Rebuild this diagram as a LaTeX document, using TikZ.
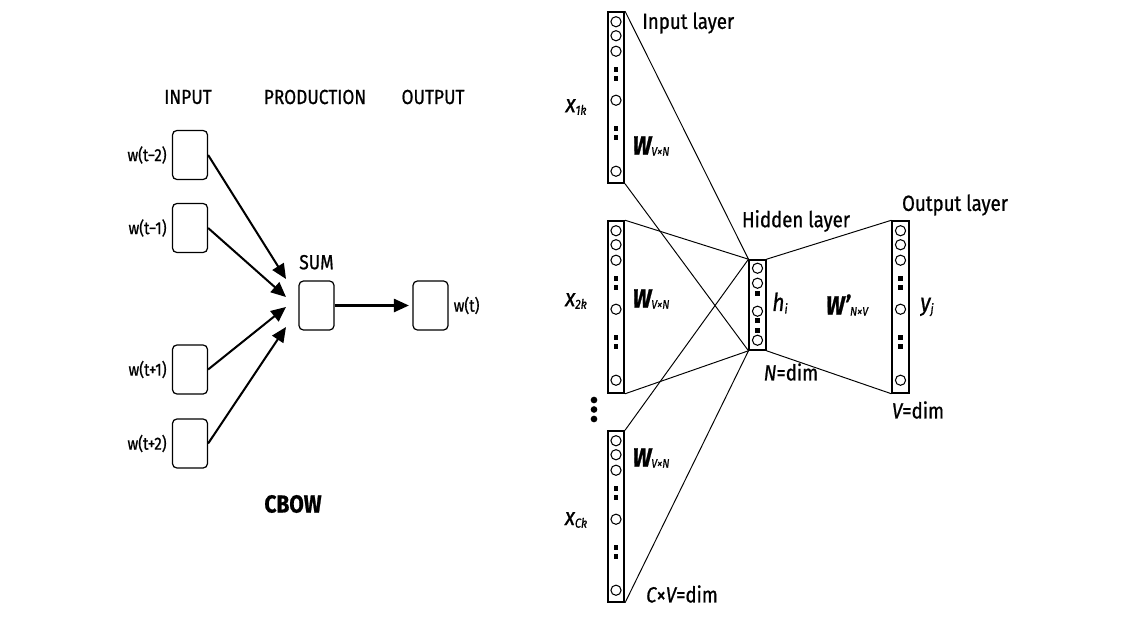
\documentclass[tikz,border=0pt]{standalone}
\usepackage{fontspec}
\setmainfont{Fira Sans}[FakeStretch=0.85, FakeBold=0.8]
\usetikzlibrary{arrows.meta,positioning,calc}

\tikzset{
	wordbox/.style={draw, rounded corners=2.5pt, line width=0.7pt, minimum width=0.7cm, minimum height=0.98cm, inner sep=0pt},
	feed/.style={line width=1.15pt, -{Triangle[length=8.5pt,width=7.5pt]}},
	layer/.style={draw, line width=0.9pt, minimum width=0.33cm, inner sep=0pt},
	wire/.style={line width=0.55pt},
	lbl/.style={inner sep=0pt, font=\fontsize{10}{12}\selectfont},
	head/.style={inner sep=0pt, font=\fontsize{11.6}{14}\selectfont},
	big/.style={inner sep=0pt, font=\fontsize{12.5}{15}\selectfont},
	sym/.style={inner sep=0pt, font=\fontsize{14}{16}\selectfont},
}

% small italic subscript and weight labels
\newcommand{\vecsub}[2]{{\itshape #1}\raisebox{-0.2ex}{\fontsize{7.5}{8}\selectfont\itshape #2}}
\newcommand{\wsub}[2]{{\fontsize{15}{16}\selectfont\bfseries\itshape #1}\raisebox{-0.1ex}{\fontsize{7}{8}\selectfont\itshape #2}}

% circles and dots inside a layer column
\newcommand{\drawcells}[3]{%
	\foreach \dy in {#2} \draw[line width=0.6pt] ($(#1.north)+(0,\dy)$) circle[radius=2.9pt];
	\foreach \dy in {#3} \fill ($(#1.north)+(0,\dy)$) ++(-1.4pt,-1.4pt) rectangle ++(2.8pt,2.8pt);
}

\begin{document}
\begin{tikzpicture}[x=0.02cm, y=-0.02cm]

	\fill[white] (0,0) rectangle (1125,618);
	\useasboundingbox (0,0) rectangle (1125,618);

	% CBOW
	\node[head] (hin) at (188,97) {INPUT};
	\node[head] (hprod) at (315,97) {PRODUCTION};
	\node[head] (hout) at (433,97) {OUTPUT};

	\node[wordbox] (w1) at (190,155) {};
	\node[wordbox] (w2) at (190,228) {};
	\node[wordbox] (w3) at (190,369.5) {};
	\node[wordbox] (w4) at (190,443.5) {};
	\node[wordbox] (sum) at (316.5,305.5) {};
	\node[wordbox] (wt) at (430.5,305.5) {};

	\node[lbl, left=2.8pt of w1] (l1) {w(t−2)};
	\node[lbl, left=2.8pt of w2] (l2) {w(t−1)};
	\node[lbl, left=2.8pt of w3] (l3) {w(t+1)};
	\node[lbl, left=2.8pt of w4] (l4) {w(t+2)};
	\node[head, above=6pt of sum] (lsum) {SUM};
	\node[lbl, right=2.7pt of wt] (lwt) {w(t)};
	\node[inner sep=0pt, font=\fontsize{14}{16}\selectfont\bfseries] (cbow) at (293,504) {CBOW};

	\coordinate (s1) at (286,279);
	\coordinate (s2) at (286,297);
	\coordinate (s3) at (286,307);
	\coordinate (s4) at (286,327);

	\draw[feed] (w1.east) -- (s1);
	\draw[feed] (w2.east) -- (s2);
	\draw[feed] (w3.east) -- (s3);
	\draw[feed] (w4.east) -- (s4);
	\draw[feed, shorten >=2pt] (sum.east) -- (wt.west);

	% word2vec network
	\node[layer, minimum height=3.42cm] (c1) at (616,97.5) {};
	\node[layer, minimum height=3.44cm] (c2) at (616,307) {};
	\node[layer, minimum height=3.42cm] (c3) at (616,516.5) {};
	\node[layer, minimum height=1.8cm] (hid) at (757.5,305) {};
	\node[layer, minimum height=3.44cm] (out) at (900.5,307) {};

	\drawcells{c1}{10.5,24.5,40,89,160}{58.5,67,117.5,126}
	\drawcells{c2}{10.5,24.5,40,89,160}{58.5,67,117.5,126}
	\drawcells{c3}{10.5,24.5,40,89,160}{58.5,67,117.5,126}
	\drawcells{out}{10.5,24.5,40,89,160}{58.5,67,117.5,126}
	\drawcells{hid}{9,24,52,81}{34,61,71}

	\foreach \c in {c1,c2,c3} {
		\draw[wire] (\c.north east) -- (hid.north west);
		\draw[wire] (\c.south east) -- (hid.south west);
	}
	\draw[wire] (hid.north east) -- (out.north west);
	\draw[wire] (hid.south east) -- (out.south west);

	\foreach \y in {400,409.5,419} \fill (594,\y) circle[radius=1.9pt];

	\node[big, anchor=west] (tin) at (642,23) {Input layer};
	\node[big] (thid) at (796,221) {Hidden layer};
	\node[big] (tout) at (955,205) {Output layer};

	\node[sym] (x1) at (576,107) {\vecsub{x}{1k}};
	\node[sym] (x2) at (576,301) {\vecsub{x}{2k}};
	\node[sym] (x3) at (576,520) {\vecsub{x}{Ck}};
	\node[big] (wa) at (651,146) {\wsub{W}{V×N}};
	\node[big] (wb) at (651,299) {\wsub{W}{V×N}};
	\node[big] (wc) at (651,458) {\wsub{W}{V×N}};
	\node[big] (wp) at (847,305) {\wsub{W'}{N×V}};
	\node[sym] (hi) at (780,303) {\vecsub{h}{i}};
	\node[sym] (yj) at (927,307) {\vecsub{y}{j}};
	\node[big] (ndim) at (791,372) {{\itshape N}=dim};
	\node[big] (vdim) at (918,410) {{\itshape V}=dim};
	\node[big] (cvdim) at (682,594) {{\itshape C}×{\itshape V}=dim};

\end{tikzpicture}
\end{document}
